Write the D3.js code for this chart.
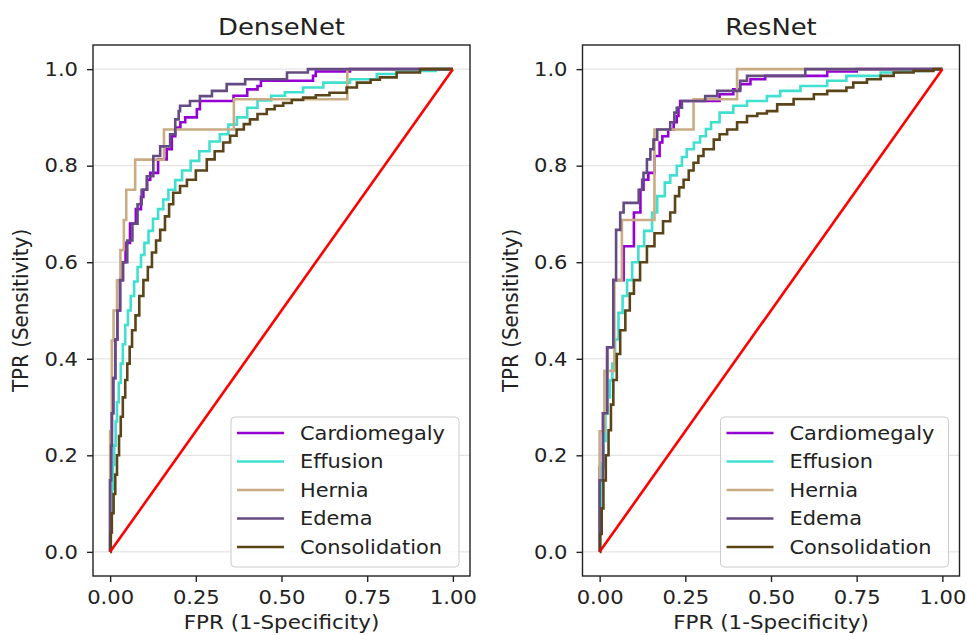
<!DOCTYPE html>
<html lang="en">
<head>
<meta charset="utf-8">
<title>ROC curves</title>
<script src="https://cdn.jsdelivr.net/npm/d3@7"></script>
<style>
  body { margin: 0; background: #fff; }
  svg text { font-family: "DejaVu Sans", sans-serif; fill: #222; }
</style>
</head>
<body>
<script>
// chart size
var w = 967, h = 635;

var classes = ["Cardiomegaly", "Effusion", "Hernia", "Edema", "Consolidation"];
var colors = ["#9400d3", "#40e0d0", "#c9ac84", "#644b82", "#5a4418"];
var models = ["DenseNet", "ResNet"];
var xTicks = [0, 0.25, 0.5, 0.75, 1];
var yTicks = [0, 0.2, 0.4, 0.6, 0.8, 1];

// ROC points: [fpr, tpr after the jump at that fpr]
var denseCardiomegaly = [[0,0],[0,0.148],[0.003,0.22],[0.005,0.287],[0.009,0.36],[0.015,0.44],[0.021,0.5],[0.029,0.563],[0.036,0.6],[0.045,0.64],[0.058,0.68],[0.075,0.71],[0.09,0.735],[0.097,0.75],[0.108,0.771],[0.117,0.785],[0.14,0.813],[0.165,0.834],[0.18,0.861],[0.19,0.879],[0.205,0.89],[0.219,0.9],[0.253,0.917],[0.262,0.934],[0.36,0.945],[0.40,0.958],[0.43,0.965],[0.44,0.976],[0.592,0.986],[0.6,0.995],[0.7,1],[1,1]];
var denseEffusion = [[0,0],[0,0.03],[0.002,0.08],[0.005,0.13],[0.008,0.18],[0.012,0.22],[0.016,0.27],[0.02,0.31],[0.025,0.35],[0.031,0.39],[0.037,0.43],[0.044,0.47],[0.052,0.5],[0.06,0.53],[0.07,0.56],[0.08,0.59],[0.09,0.615],[0.1,0.64],[0.112,0.665],[0.125,0.69],[0.14,0.71],[0.155,0.73],[0.17,0.75],[0.19,0.77],[0.21,0.79],[0.235,0.81],[0.26,0.83],[0.29,0.85],[0.32,0.865],[0.345,0.885],[0.37,0.9],[0.4,0.92],[0.43,0.935],[0.47,0.945],[0.51,0.952],[0.563,0.962],[0.622,0.972],[0.70,0.979],[0.778,0.99],[0.836,0.996],[0.95,1],[1,1]];
var denseHernia = [[0,0],[0,0.25],[0.005,0.4375],[0.01,0.5],[0.02,0.5625],[0.03,0.625],[0.04,0.6875],[0.047,0.75],[0.073,0.8125],[0.157,0.875],[0.361,0.9375],[0.692,1],[1,1]];
var denseEdema = [[0,0],[0,0.148],[0.003,0.22],[0.005,0.287],[0.009,0.36],[0.015,0.44],[0.021,0.5],[0.029,0.563],[0.038,0.6],[0.05,0.645],[0.065,0.68],[0.08,0.72],[0.092,0.75],[0.107,0.778],[0.126,0.82],[0.146,0.84],[0.175,0.865],[0.19,0.896],[0.2,0.913],[0.204,0.924],[0.233,0.934],[0.262,0.944],[0.297,0.955],[0.34,0.969],[0.394,0.979],[0.516,0.993],[0.577,1],[1,1]];
var denseConsolidation = [[0,0],[0.002,0.04],[0.005,0.08],[0.01,0.12],[0.015,0.16],[0.02,0.2],[0.026,0.24],[0.031,0.28],[0.037,0.32],[0.044,0.356],[0.05,0.39],[0.057,0.425],[0.064,0.459],[0.074,0.49],[0.085,0.53],[0.097,0.563],[0.11,0.59],[0.122,0.62],[0.134,0.645],[0.146,0.667],[0.16,0.695],[0.172,0.72],[0.184,0.744],[0.204,0.758],[0.224,0.771],[0.25,0.79],[0.282,0.813],[0.305,0.83],[0.33,0.848],[0.35,0.862],[0.369,0.875],[0.39,0.886],[0.408,0.896],[0.43,0.907],[0.457,0.917],[0.48,0.924],[0.505,0.93],[0.53,0.936],[0.563,0.941],[0.6,0.946],[0.64,0.951],[0.69,0.962],[0.72,0.972],[0.76,0.978],[0.787,0.983],[0.836,0.993],[0.904,1],[1,1]];

var resCardiomegaly = [[0,0],[0,0.175],[0.01,0.287],[0.022,0.424],[0.04,0.563],[0.07,0.633],[0.1,0.703],[0.119,0.75],[0.128,0.771],[0.142,0.785],[0.16,0.82],[0.175,0.848],[0.183,0.861],[0.2,0.875],[0.216,0.89],[0.225,0.903],[0.23,0.92],[0.235,0.934],[0.35,0.948],[0.39,0.958],[0.41,0.969],[0.44,0.979],[0.483,0.986],[0.664,0.995],[0.75,1],[1,1]];
var resEffusion = [[0,0],[0,0.04],[0.001,0.079],[0.004,0.13],[0.007,0.183],[0.011,0.23],[0.017,0.287],[0.023,0.32],[0.03,0.355],[0.037,0.39],[0.045,0.44],[0.055,0.495],[0.067,0.53],[0.08,0.563],[0.095,0.6],[0.113,0.633],[0.13,0.665],[0.153,0.703],[0.168,0.737],[0.19,0.765],[0.206,0.78],[0.225,0.8],[0.24,0.818],[0.254,0.834],[0.275,0.848],[0.293,0.861],[0.31,0.876],[0.325,0.89],[0.35,0.91],[0.39,0.924],[0.43,0.934],[0.488,0.944],[0.527,0.955],[0.586,0.965],[0.664,0.976],[0.72,0.986],[0.82,0.993],[0.877,0.996],[0.96,1],[1,1]];
var resHernia = [[0,0],[0,0.25],[0.014,0.375],[0.043,0.5625],[0.065,0.6875],[0.16,0.875],[0.274,0.9375],[0.401,1],[1,1]];
var resEdema = [[0,0],[0,0.148],[0.01,0.287],[0.022,0.424],[0.04,0.563],[0.048,0.667],[0.06,0.703],[0.07,0.723],[0.114,0.75],[0.124,0.771],[0.128,0.785],[0.138,0.813],[0.148,0.834],[0.157,0.854],[0.168,0.875],[0.206,0.89],[0.218,0.91],[0.225,0.92],[0.24,0.934],[0.308,0.944],[0.343,0.955],[0.41,0.976],[0.43,0.986],[0.6,1],[1,1]];
var resConsolidation = [[0,0],[0.002,0.037],[0.006,0.09],[0.011,0.148],[0.018,0.2],[0.026,0.252],[0.033,0.305],[0.04,0.356],[0.05,0.41],[0.06,0.459],[0.075,0.5],[0.088,0.535],[0.1,0.563],[0.118,0.6],[0.138,0.633],[0.16,0.66],[0.185,0.685],[0.206,0.703],[0.22,0.737],[0.232,0.755],[0.245,0.771],[0.26,0.79],[0.274,0.806],[0.288,0.82],[0.303,0.834],[0.333,0.854],[0.35,0.865],[0.372,0.875],[0.401,0.89],[0.43,0.903],[0.46,0.908],[0.488,0.913],[0.518,0.927],[0.566,0.938],[0.625,0.948],[0.664,0.955],[0.72,0.962],[0.74,0.972],[0.78,0.979],[0.82,0.986],[0.858,0.993],[0.916,0.996],[0.974,1],[1,1]];

var curvesByModel = [
  [denseCardiomegaly, denseEffusion, denseHernia, denseEdema, denseConsolidation],
  [resCardiomegaly, resEffusion, resHernia, resEdema, resConsolidation]
];

// layout
var panelLeft = [93, 582.5];
var plotTop = 45, pw = 377, ph = 531;
var sx = 1.1;   // the reference text is a bit wider than plain DejaVu

var svg = d3.select("body").append("svg")
  .attr("width", w)
  .attr("height", h);

var xScale = d3.scaleLinear().domain([-0.05, 1.05]).range([0, pw]);
var yScale = d3.scaleLinear().domain([-0.05, 1.05]).range([ph, 0]);

var line = d3.line()
  .x(function(d) { return xScale(d[0]); })
  .y(function(d) { return yScale(d[1]); })
  .curve(d3.curveStepAfter);

function addText(parent, x, y, size, str) {
  return parent.append("text")
    .attr("transform", "translate(" + x + "," + y + ") scale(" + sx + ",1)")
    .attr("font-size", size)
    .text(str);
}

models.forEach(function(name, m) {
  var g = svg.append("g").attr("transform", "translate(" + panelLeft[m] + "," + plotTop + ")");

  // horizontal grid
  g.selectAll(".grid").data(yTicks).enter().append("line")
    .attr("x1", 0).attr("x2", pw)
    .attr("y1", function(d) { return yScale(d); })
    .attr("y2", function(d) { return yScale(d); })
    .attr("stroke", "#dedede").attr("stroke-width", 1);

  // curves
  curvesByModel[m].forEach(function(pts, i) {
    g.append("path")
      .attr("d", line(pts))
      .attr("fill", "none")
      .attr("stroke", colors[i])
      .attr("stroke-width", 2.6);
  });

  // chance line
  g.append("path")
    .attr("d", d3.line().x(function(d) { return xScale(d); }).y(function(d) { return yScale(d); })([0, 1]))
    .attr("stroke", "#ff0000").attr("stroke-width", 2.6).attr("fill", "none");

  // axes
  var xa = g.append("g").attr("transform", "translate(0," + ph + ")")
    .call(d3.axisBottom(xScale).tickValues(xTicks).tickFormat(d3.format(".2f")).tickSize(6).tickPadding(8).tickSizeOuter(0));
  var ya = g.append("g")
    .call(d3.axisLeft(yScale).tickValues(yTicks).tickFormat(d3.format(".1f")).tickSize(6).tickPadding(9).tickSizeOuter(0));
  [xa, ya].forEach(function(a) {
    a.select(".domain").remove();
    a.selectAll("line").attr("stroke", "#222").attr("stroke-width", 1.4);
    a.selectAll("text").attr("font-size", "19.5px").attr("fill", "#222")
      .style("font-family", "'DejaVu Sans', sans-serif")
      .attr("transform", "scale(1.08,1)");
  });
  ya.selectAll("text").attr("x", -15 / 1.08);

  // frame
  g.append("rect").attr("x", 0).attr("y", 0).attr("width", pw).attr("height", ph)
    .attr("fill", "none").attr("stroke", "#222").attr("stroke-width", 1.4);

  // title and labels
  addText(g, pw / 2, 35 - plotTop, "23.5px", name).attr("text-anchor", "middle");
  addText(g, pw / 2, 629 - plotTop, "19.5px", "FPR (1-Specificity)").attr("text-anchor", "middle");
  g.append("text").attr("transform", "translate(-65," + (ph / 2) + ") rotate(-90) scale(1.02,1.05)")
    .attr("text-anchor", "middle").attr("font-size", "19.5px").text("TPR (Sensitivity)");

  // legend
  var lw = 228, lh = 150;
  var lg = g.append("g").attr("transform", "translate(" + (pw - 11 - lw) + "," + (ph - 9 - lh) + ")");
  lg.append("rect").attr("width", lw).attr("height", lh).attr("rx", 4)
    .attr("fill", "#fff").attr("fill-opacity", 0.8)
    .attr("stroke", "#cccccc").attr("stroke-width", 1);
  classes.forEach(function(c, i) {
    var yy = 16 + i * 28.5;
    lg.append("line").attr("x1", 6).attr("x2", 53).attr("y1", yy).attr("y2", yy)
      .attr("stroke", colors[i]).attr("stroke-width", 2.6);
    addText(lg, 69, yy, "19px", c).attr("dy", "0.36em");
  });
});
</script>
</body>
</html>
